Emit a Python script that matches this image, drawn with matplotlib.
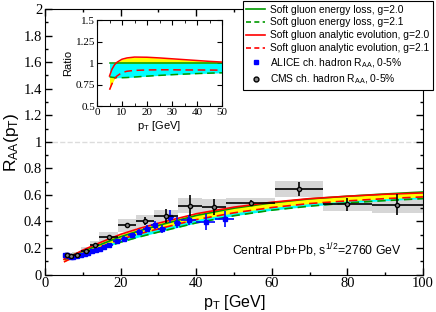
import matplotlib
matplotlib.use("Agg")
import numpy as np
import matplotlib.pyplot as plt
from matplotlib.lines import Line2D
from matplotlib.ticker import MultipleLocator

plt.rcParams["font.family"] = "Liberation Sans"
plt.rcParams["mathtext.fontset"] = "custom"
plt.rcParams["mathtext.rm"] = "Liberation Sans"
plt.rcParams["mathtext.it"] = "Liberation Sans:italic"

# theory curves, main panel
pt = [5, 7.5, 10, 15, 20, 25, 30, 40, 50, 60, 70, 80, 90, 100]
eloss_g20 = [0.135, 0.15, 0.175, 0.23, 0.285, 0.33, 0.37, 0.445, 0.50, 0.54, 0.57, 0.59, 0.607, 0.622]
eloss_g21 = [0.115, 0.127, 0.148, 0.196, 0.244, 0.284, 0.32, 0.389, 0.443, 0.485, 0.515, 0.54, 0.557, 0.572]
evol_g20 = [0.115, 0.147, 0.184, 0.246, 0.303, 0.348, 0.387, 0.458, 0.508, 0.545, 0.572, 0.59, 0.605, 0.615]
evol_g21 = [0.095, 0.129, 0.158, 0.212, 0.265, 0.307, 0.344, 0.414, 0.465, 0.505, 0.535, 0.555, 0.572, 0.585]

# inset ratios
pt_in = [5, 6, 7, 8, 10, 12, 15, 20, 25, 30, 35, 40, 45, 50]
r_eloss_g20 = [1.0] * 14
r_eloss_g21 = [0.84, 0.835, 0.832, 0.83, 0.83, 0.832, 0.838, 0.848, 0.857, 0.865, 0.872, 0.878, 0.883, 0.887]
r_evol_g20 = [0.85, 0.93, 0.98, 1.01, 1.045, 1.06, 1.07, 1.068, 1.06, 1.05, 1.04, 1.03, 1.02, 1.012]
r_evol_g21 = [0.69, 0.76, 0.82, 0.85, 0.89, 0.905, 0.915, 0.92, 0.922, 0.922, 0.92, 0.92, 0.919, 0.918]

# ALICE
alice_pt = [5.25, 5.75, 6.25, 6.75, 7.5, 8.5, 9.5, 10.5, 11.5, 12.5, 13.5, 14.5, 15.5, 17, 19,
            21, 23, 25, 27, 29, 31, 33, 35, 38, 42.5, 47.5]
alice_xerr = [0.25, 0.25, 0.25, 0.25, 0.5, 0.5, 0.5, 0.5, 0.5, 0.5, 0.5, 0.5, 0.5, 1, 1,
              1, 1, 1, 1, 1, 1, 1, 1, 2, 2.5, 2.5]
alice_raa = [0.15, 0.145, 0.14, 0.135, 0.135, 0.14, 0.145, 0.155, 0.165, 0.175, 0.185, 0.195, 0.205, 0.225, 0.25,
             0.27, 0.295, 0.32, 0.345, 0.375, 0.345, 0.435, 0.39, 0.41, 0.395, 0.42]
alice_yerr = [0.01, 0.01, 0.01, 0.01, 0.01, 0.01, 0.01, 0.01, 0.01, 0.012, 0.012, 0.013, 0.014, 0.015, 0.016,
              0.018, 0.02, 0.022, 0.025, 0.03, 0.03, 0.05, 0.04, 0.04, 0.06, 0.06]

# CMS
cms_pt = [5.8, 6.8, 8.4, 10.8, 13.2, 16.8, 21.6, 26.4, 32.0, 38.4, 44.8, 54.4, 67.2, 80.0, 93.2]
cms_lo = [5.2, 6.4, 7.2, 9.6, 12.0, 14.4, 19.2, 24.0, 28.8, 35.2, 41.6, 48.0, 60.8, 73.6, 86.4]
cms_hi = [6.4, 7.2, 9.6, 12.0, 14.4, 19.2, 24.0, 28.8, 35.2, 41.6, 48.0, 60.8, 73.6, 86.4, 100.0]
cms_raa = [0.15, 0.14, 0.15, 0.18, 0.22, 0.28, 0.37, 0.40, 0.44, 0.52, 0.51, 0.54, 0.645, 0.53, 0.525]
cms_stat = [0.005, 0.005, 0.005, 0.006, 0.008, 0.01, 0.012, 0.03, 0.055, 0.08, 0.06, 0.02, 0.05, 0.05, 0.08]
cms_syst = [0.02, 0.02, 0.02, 0.025, 0.03, 0.04, 0.05, 0.05, 0.05, 0.06, 0.06, 0.04, 0.06, 0.05, 0.06]

green = "#009a00"
red = "#ff0000"
blue = "#0000ff"

fig = plt.figure(figsize=(4.36, 3.12), dpi=100)
ax = fig.add_axes([0.1032, 0.120, 0.8670, 0.851])

ax.axhline(1.0, color="#dcdcdc", ls="--", lw=1.0, zorder=0)

# CMS systematic boxes
lo = np.array(cms_lo)
hi = np.array(cms_hi)
raa = np.array(cms_raa)
syst = np.array(cms_syst)
ax.bar(lo, 2 * syst, width=hi - lo, bottom=raa - syst, align="edge",
       color="#d6d6d6", lw=0, zorder=1)

ax.fill_between(pt, eloss_g21, eloss_g20, color="cyan", lw=0, zorder=2)
ax.fill_between(pt, evol_g21, evol_g20, color="yellow", lw=0, zorder=2)

ax.plot(pt, eloss_g20, color=green, lw=1.2, zorder=3)
ax.plot(pt, eloss_g21, color=green, lw=1.2, ls=(0, (5, 3)), zorder=3)
ax.plot(pt, evol_g20, color=red, lw=1.2, zorder=3)
ax.plot(pt, evol_g21, color=red, lw=1.2, ls=(0, (5, 3)), zorder=3)

ax.errorbar(alice_pt, alice_raa, xerr=alice_xerr, yerr=alice_yerr, fmt="s", ms=3,
            color=blue, mfc=blue, mec=blue, elinewidth=1.2, capsize=0, zorder=4)
xerr_cms = [p - l for p, l in zip(cms_pt, cms_lo)], [h - p for p, h in zip(cms_pt, cms_hi)]
ax.errorbar(cms_pt, cms_raa, xerr=xerr_cms, yerr=cms_stat, fmt="o", ms=3,
            color="black", mfc="#888888", mec="black", elinewidth=1.2, capsize=0, zorder=5)

ax.set_xlim(0, 100)
ax.set_ylim(0, 2)
ax.xaxis.set_major_locator(MultipleLocator(20))
ax.xaxis.set_minor_locator(MultipleLocator(10))
ax.yaxis.set_minor_locator(MultipleLocator(0.1))
ax.tick_params(which="both", direction="in", top=True, right=True, width=1)
ax.tick_params(which="major", length=5, labelsize=10.5, pad=2)
ax.tick_params(which="minor", length=2.5)
ax.set_yticks(np.arange(0, 2.01, 0.2))
ax.set_yticklabels(["0", "0.2", "0.4", "0.6", "0.8", "1", "1.2", "1.4", "1.6", "1.8", "2"])
for lab in ax.get_xticklabels() + ax.get_yticklabels():
    lab.set_fontfamily("Liberation Serif")
ax.set_xlabel(r"p$_\mathrm{T}$ [GeV]", fontsize=11.5, labelpad=2)
ax.set_ylabel(r"R$_\mathrm{AA}$(p$_\mathrm{T}$)", fontsize=12.5, labelpad=2)

ax.text(49.5, 0.185, r"Central Pb+Pb, s$^{1/2}$=2760 GeV", fontsize=8.8, va="center", ha="left")

# inset
axi = fig.add_axes([0.2225, 0.660, 0.2867, 0.2756])
axi.fill_between(pt_in, r_evol_g21, r_evol_g20, color="yellow", lw=0, zorder=1)
axi.fill_between(pt_in, r_eloss_g21, r_eloss_g20, color="cyan", lw=0, zorder=2)
axi.plot(pt_in, r_eloss_g20, color=green, lw=1.1, zorder=3)
axi.plot(pt_in, r_eloss_g21, color=green, lw=1.1, ls=(0, (5, 3)), zorder=3)
axi.plot(pt_in, r_evol_g20, color=red, lw=1.1, zorder=3)
axi.plot(pt_in, r_evol_g21, color=red, lw=1.1, ls=(0, (5, 3)), zorder=3)
axi.set_xlim(0, 50)
axi.set_ylim(0.5, 1.5)
axi.xaxis.set_major_locator(MultipleLocator(10))
axi.xaxis.set_minor_locator(MultipleLocator(5))
axi.set_yticks([0.5, 0.75, 1.0, 1.25, 1.5])
axi.set_yticklabels(["0.5", "0.75", "1", "1.25", "1.5"])
axi.tick_params(which="both", direction="in", top=True, right=True, labelsize=8, pad=1.5)
axi.tick_params(which="major", length=3.5)
axi.tick_params(which="minor", length=2)
for lab in axi.get_xticklabels() + axi.get_yticklabels():
    lab.set_fontfamily("Liberation Serif")
axi.set_xlabel(r"p$_\mathrm{T}$ [GeV]", fontsize=8, labelpad=1)
axi.set_ylabel("Ratio", fontsize=8, labelpad=2)

handles = [
    Line2D([], [], color=green, lw=1.2),
    Line2D([], [], color=green, lw=1.2, ls=(0, (3, 2))),
    Line2D([], [], color=red, lw=1.2),
    Line2D([], [], color=red, lw=1.2, ls=(0, (3, 2))),
    Line2D([], [], color=blue, marker="s", ms=3.5, ls="none"),
    Line2D([], [], color="black", marker="o", ms=3.5, mfc="#888888", ls="none"),
]
labels = [
    "Soft gluon energy loss, g=2.0",
    "Soft gluon energy loss, g=2.1",
    "Soft gluon analytic evolution, g=2.0",
    "Soft gluon analytic evolution, g=2.1",
    r"ALICE ch. hadron R$_\mathrm{AA}$, 0-5%",
    r"CMS ch. hadron R$_\mathrm{AA}$, 0-5%",
]
leg = fig.legend(handles, labels, loc="upper right", bbox_to_anchor=(0.993, 0.997),
                 fontsize=7.4, frameon=True, fancybox=False, edgecolor="black",
                 framealpha=1, borderaxespad=0, handlelength=1.8, handletextpad=0.5,
                 labelspacing=0.28, borderpad=0.35)
leg.get_frame().set_linewidth(0.8)

fig.savefig("out.png", dpi=100)
